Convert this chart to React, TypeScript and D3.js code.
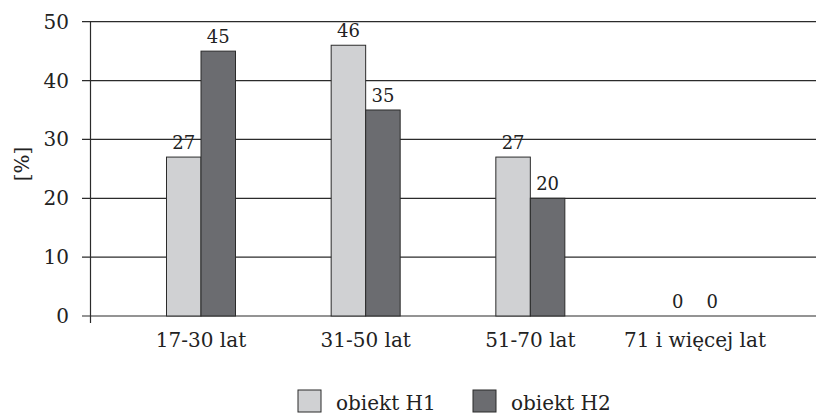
import React from "react";
import * as d3 from "d3";

const categories = ["17-30 lat", "31-50 lat", "51-70 lat", "71 i więcej lat"];
const seriesNames = ["obiekt H1", "obiekt H2"];
const valuesH1 = [27, 46, 27, 0];
const valuesH2 = [45, 35, 20, 0];
const yTicks = [0, 10, 20, 30, 40, 50];

const W = 816;
const H = 414;
const FONT = "'DejaVu Serif', serif";
const COLORS = ["#d0d1d3", "#6b6c70"];
const INK = "#2b2b2b";
const textStyle = { fontFamily: FONT };

export default function App() {
  const axisX = 90.5;
  const y = d3.scaleLinear().domain([0, 50]).range([316, 21.7]);
  const x = d3.scalePoint<string>().domain(categories).range([201, 695]);
  const barW = 34.5;
  const series = [valuesH1, valuesH2];

  return (
    <svg
      width={W}
      height={H}
      viewBox={`0 0 ${W} ${H}`}
      style={{ position: "absolute", left: 0, top: 0, background: "#fff", fontFamily: FONT }}
    >
      {/* horizontal gridlines with left tick marks */}
      {yTicks.map((t) => (
        <g key={t}>
          <line x1={82} x2={W} y1={y(t)} y2={y(t)} stroke={INK} strokeWidth={1.2} />
          <text
            x={69}
            y={y(t)}
            dy="0.35em"
            textAnchor="end"
            fontSize={20}
            fill="#222"
            style={textStyle}
          >
            {t}
          </text>
        </g>
      ))}

      {/* bars */}
      {categories.map((c, i) =>
        series.map((vals, s) => {
          const cx = x(c)!;
          const bx = cx - barW + s * barW;
          const v = vals[i];
          return (
            <g key={`${c}-${s}`}>
              {v > 0 && (
                <rect
                  x={bx}
                  y={y(v)}
                  width={barW}
                  height={y(0) - y(v)}
                  fill={COLORS[s]}
                  stroke={INK}
                  strokeWidth={1}
                />
              )}
              <text
                x={bx + barW / 2}
                y={y(v) - 8}
                textAnchor="middle"
                fontSize={18}
                fill="#222"
                style={textStyle}
              >
                {v}
              </text>
            </g>
          );
        })
      )}

      {/* y axis line */}
      <line x1={axisX} x2={axisX} y1={y(50)} y2={323} stroke={INK} strokeWidth={1.2} />

      {/* category labels */}
      {categories.map((c) => (
        <text key={c} x={x(c)!} y={347} textAnchor="middle" fontSize={20} fill="#222" style={textStyle}>
          {c}
        </text>
      ))}

      {/* y axis title */}
      <text
        transform={`translate(29, 164) rotate(-90)`}
        textAnchor="middle"
        fontSize={20}
        fill="#222"
        style={textStyle}
      >
        [%]
      </text>

      {/* legend */}
      {seriesNames.map((name, s) => {
        const lx = 298 + s * 175;
        return (
          <g key={name}>
            <rect x={lx} y={390} width={23} height={22} fill={COLORS[s]} stroke={INK} strokeWidth={1} />
            <text x={lx + 38} y={410} fontSize={20} fill="#222" style={textStyle}>
              {name}
            </text>
          </g>
        );
      })}
    </svg>
  );
}
